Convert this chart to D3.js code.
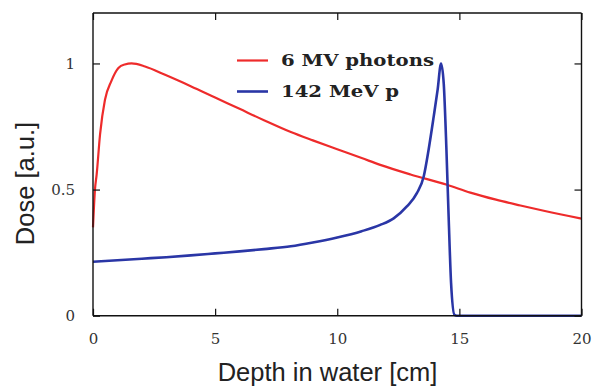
<!DOCTYPE html>
<html>
<head>
<meta charset="utf-8">
<script src="https://cdn.jsdelivr.net/npm/d3@7"></script>
<style>
  html, body { margin: 0; padding: 0; background: #fff; }
  svg { display: block; }
</style>
</head>
<body>
<svg id="chart" width="594" height="387"></svg>
<script>
// ---- data ----
const photonDepth = [0, 0.08, 0.15, 0.29, 0.49, 0.75, 1.04, 1.3, 1.58, 2.13, 2.95, 4, 5, 6, 7, 8.1, 9, 10, 11, 11.76, 13, 14.49, 15.45, 16.5, 17.5, 18.5, 20];
const photonDose  = [0.35, 0.5, 0.56, 0.72, 0.856, 0.93, 0.982, 0.996, 1.0, 0.988, 0.955, 0.91, 0.865, 0.82, 0.775, 0.728, 0.695, 0.66, 0.625, 0.598, 0.56, 0.519, 0.488, 0.46, 0.437, 0.415, 0.385];
const protonDepth = [0, 1, 2, 3, 4, 5, 6, 7, 8.1, 9, 10, 11, 11.76, 12.31, 12.85, 13.26, 13.54, 13.74, 13.95, 14.11, 14.25, 14.36, 14.47, 14.56, 14.66, 14.8, 14.9, 20];
const protonDose  = [0.214, 0.22, 0.226, 0.232, 0.239, 0.247, 0.255, 0.264, 0.275, 0.29, 0.31, 0.335, 0.36, 0.386, 0.433, 0.486, 0.552, 0.658, 0.79, 0.896, 1.0, 0.92, 0.658, 0.393, 0.13, 0.003, 0, 0];
const seriesNames = ["6 MV photons", "142 MeV p"];
const xTicks = [0, 5, 10, 15, 20];
const yTicks = [0, 0.5, 1];
const yTickLabels = ["0", "0.5", "1"];

// ---- layout ----
const svg = d3.select("#chart");
const L = 93, R = 581.5, T = 13, B = 315.7;
const x = d3.scaleLinear().domain([0, 20]).range([L, R]);
const y = d3.scaleLinear().domain([0, 1.2]).range([B, T]);

const serif = "'DejaVu Serif', serif";
const sans = "'Liberation Sans', Arial, sans-serif";

// curves
const line = d3.line().x(d => x(d[0])).y(d => y(d[1])).curve(d3.curveMonotoneX);
const photon = photonDepth.map((d, i) => [d, photonDose[i]]);
const proton = protonDepth.map((d, i) => [d, protonDose[i]]);

svg.append("path").datum(photon).attr("d", line)
  .attr("fill", "none").attr("stroke", "#ee2b2b").attr("stroke-width", 2.2).attr("stroke-linejoin", "round");
svg.append("path").datum(proton).attr("d", line)
  .attr("fill", "none").attr("stroke", "#2a36a6").attr("stroke-width", 2.6).attr("stroke-linejoin", "round");

// axes with inward ticks
const tk = 7;
const gB = svg.append("g").attr("transform", `translate(0,${B})`)
  .call(d3.axisBottom(x).tickValues(xTicks).tickSize(-tk).tickPadding(18).tickFormat(d3.format("d")));
const gT = svg.append("g").attr("transform", `translate(0,${T})`)
  .call(d3.axisTop(x).tickValues(xTicks).tickSize(-tk).tickFormat(""));
const gL = svg.append("g").attr("transform", `translate(${L},0)`)
  .call(d3.axisLeft(y).tickValues(yTicks).tickSize(-tk).tickPadding(18).tickFormat((d, i) => yTickLabels[i]));
const gR = svg.append("g").attr("transform", `translate(${R},0)`)
  .call(d3.axisRight(y).tickValues(yTicks).tickSize(-tk).tickFormat(""));

[gB, gT, gL, gR].forEach(g => {
  g.select(".domain").attr("stroke", "#111").attr("stroke-width", 1.4);
  g.selectAll(".tick line").attr("stroke", "#111").attr("stroke-width", 1.2);
  g.selectAll("text").attr("font-family", serif).attr("font-size", 15).attr("fill", "#333");
});
gB.selectAll(".domain").attr("d", `M${L},0H${R}`);
gT.selectAll(".domain").attr("d", `M${L},0H${R}`);
gL.selectAll(".domain").attr("d", `M0,${B}V${T}`);
gR.selectAll(".domain").attr("d", `M0,${B}V${T}`);

// legend
const legColors = ["#ee2b2b", "#2a36a6"];
const legY = [60.5, 91.5];
const legLen = [153, 118];
seriesNames.forEach((name, i) => {
  svg.append("line").attr("x1", 237).attr("x2", 268).attr("y1", legY[i]).attr("y2", legY[i])
    .attr("stroke", legColors[i]).attr("stroke-width", i ? 2.6 : 2.2);
  svg.append("text").attr("x", 281).attr("y", legY[i] + 5.5)
    .attr("font-family", serif).attr("font-weight", "bold").attr("font-size", 16)
    .attr("fill", "#222")
    .attr("textLength", legLen[i]).attr("lengthAdjust", "spacingAndGlyphs")
    .text(name);
});

// axis titles
svg.append("text").attr("x", 327.5).attr("y", 380.5).attr("text-anchor", "middle")
  .attr("font-family", sans).attr("font-size", 25.5).attr("fill", "#222")
  .text("Depth in water [cm]");
svg.append("text").attr("transform", "translate(33.5,183.5) rotate(-90)").attr("text-anchor", "middle")
  .attr("font-family", sans).attr("font-size", 25.5).attr("fill", "#222")
  .text("Dose [a.u.]");
</script>
</body>
</html>
